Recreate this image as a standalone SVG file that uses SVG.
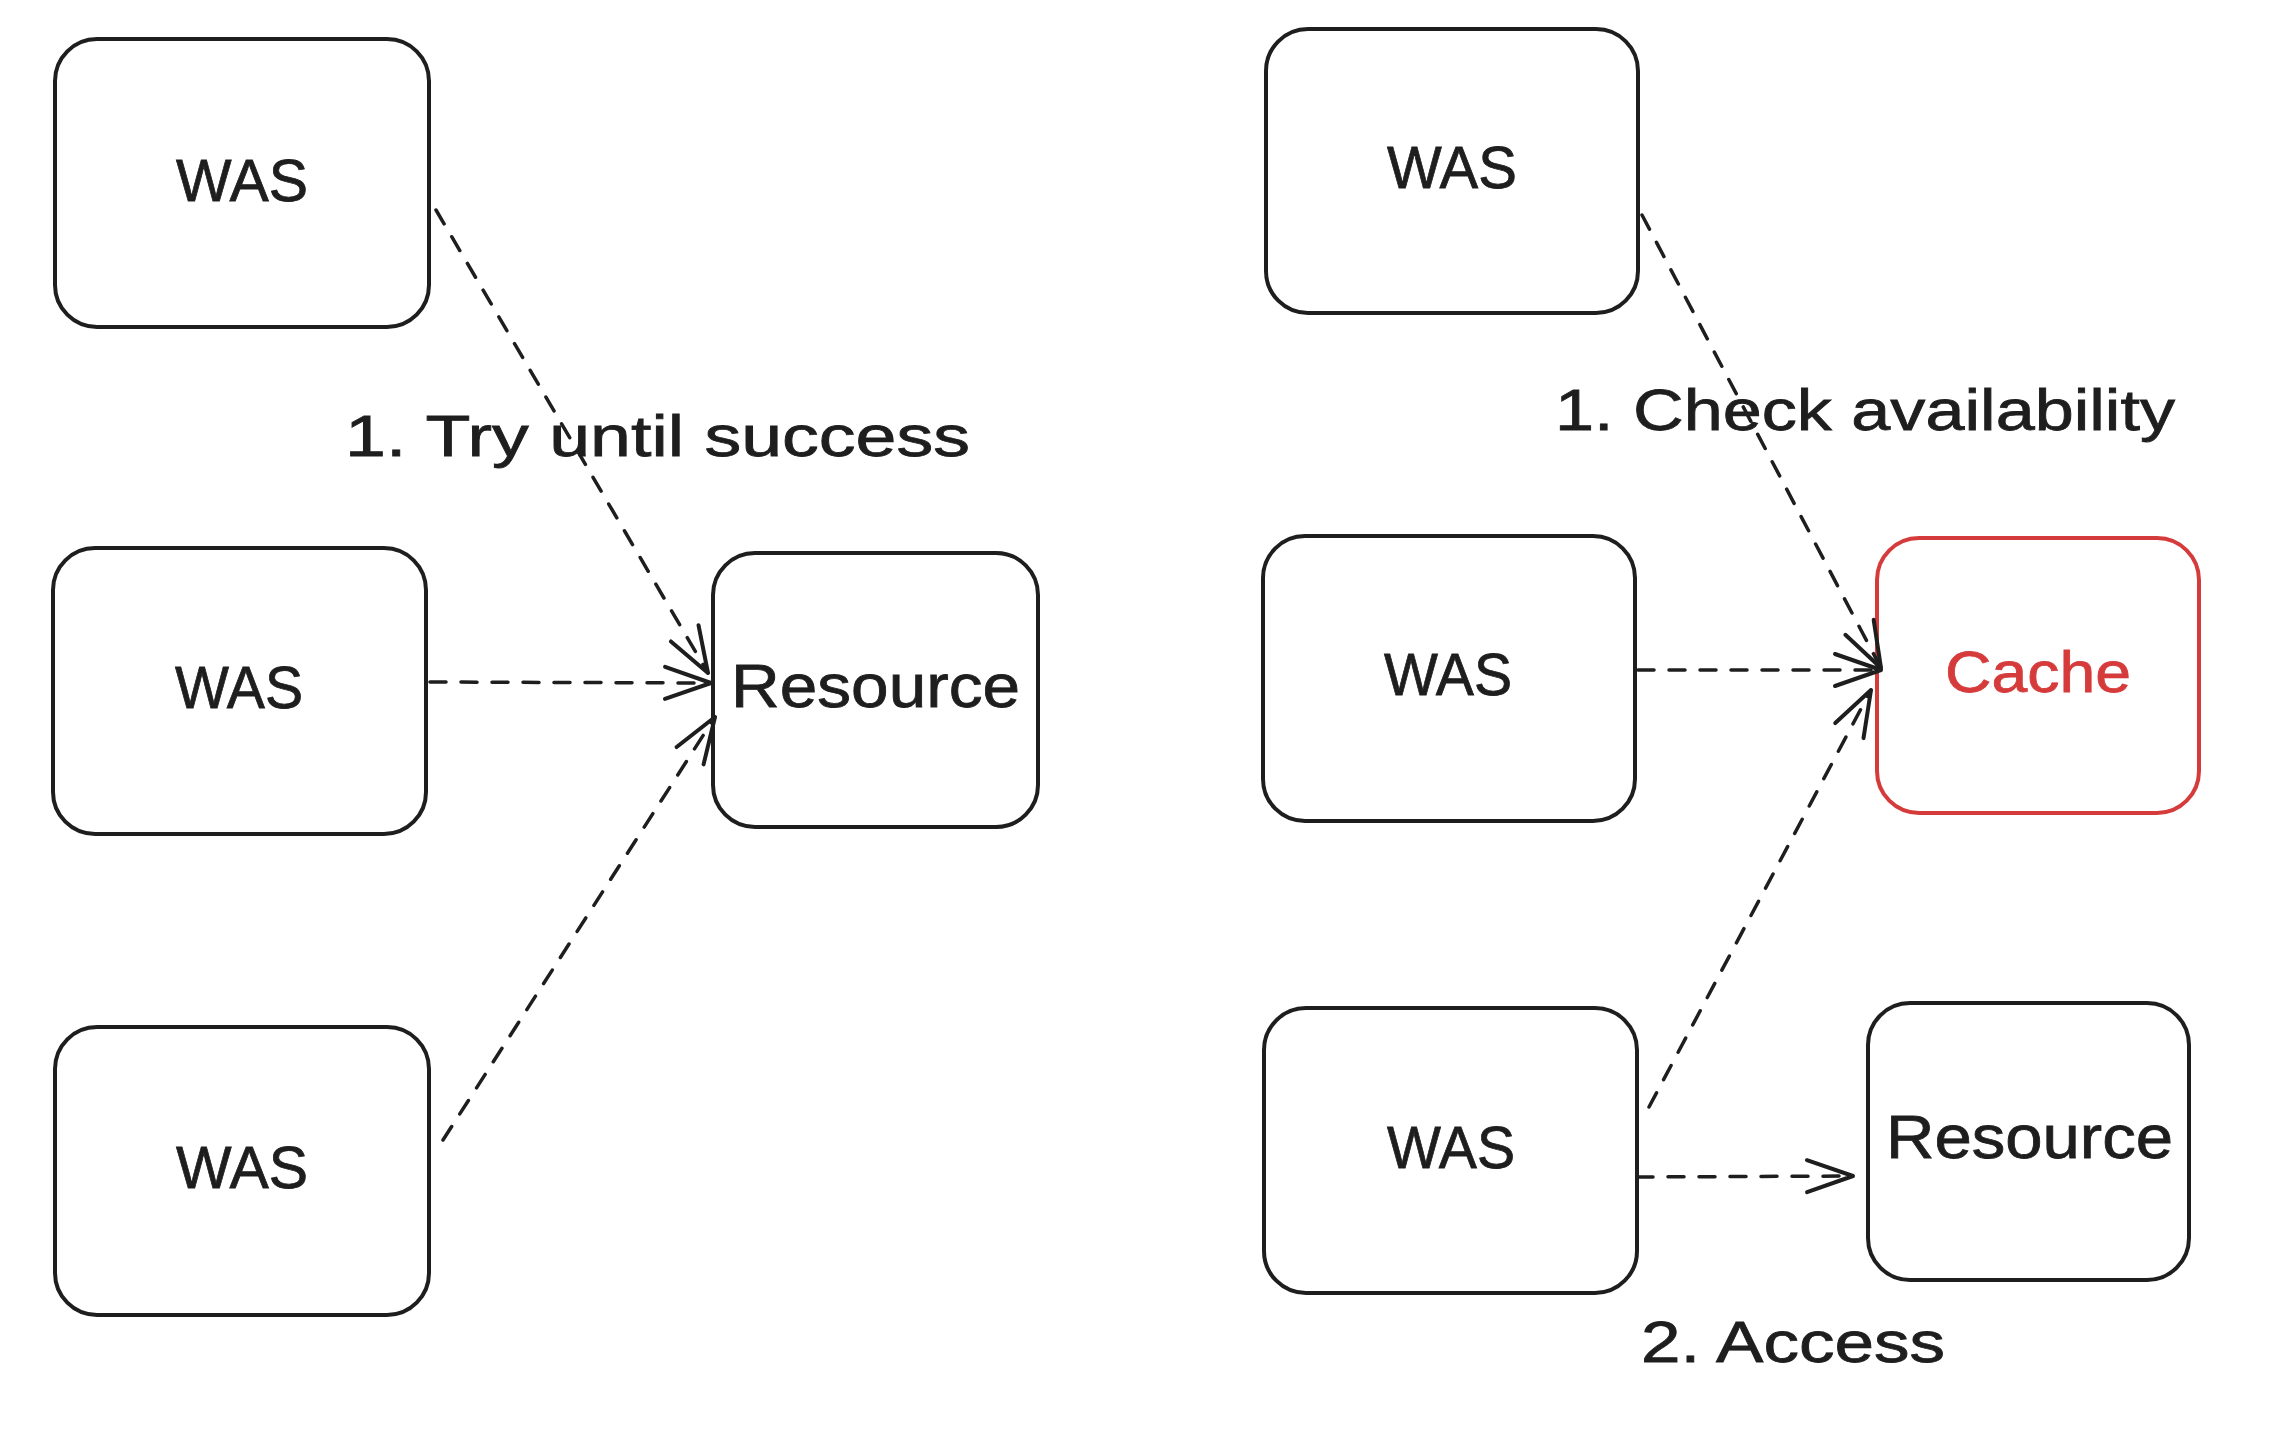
<svg xmlns="http://www.w3.org/2000/svg" width="2286" height="1448" viewBox="0 0 2286 1448">
<style>
.box{fill:#ffffff;stroke:#1e1e1e;stroke-width:4}
.red{fill:#ffffff;stroke:#d63b3b;stroke-width:4}
.t{font-family:"Liberation Sans","Noto Sans",sans-serif;font-size:60px;fill:#1e1e1e;stroke:#1e1e1e;stroke-width:0.8}
.tr{font-family:"Liberation Sans","Noto Sans",sans-serif;font-size:58px;fill:#d63b3b;stroke:#d63b3b;stroke-width:0.8}
.lbl{font-family:"Liberation Sans","Noto Sans",sans-serif;font-size:58px;fill:#1e1e1e;stroke:#1e1e1e;stroke-width:0.8}
.edge{fill:none;stroke:#1e1e1e;stroke-width:3.5;stroke-dasharray:16 15;stroke-linecap:round}
</style>
<defs>
<marker id="arr" markerUnits="userSpaceOnUse" markerWidth="80" markerHeight="80" refX="0" refY="0" viewBox="-60 -40 80 80" orient="auto" overflow="visible">
<path d="M -46 -16 L 0 0 L -46 16" fill="none" stroke="#1e1e1e" stroke-width="4" stroke-linecap="round" stroke-linejoin="round"/>
</marker>
</defs>
<rect width="2286" height="1448" fill="#ffffff"/>

<g id="was-l1"><rect class="box" x="55" y="39" width="374" height="288" rx="42"/><text class="t" x="176" y="201" textLength="132" lengthAdjust="spacingAndGlyphs">WAS</text></g>
<g id="was-l2"><rect class="box" x="53" y="548" width="373" height="286" rx="42"/><text class="t" x="175" y="708" textLength="128" lengthAdjust="spacingAndGlyphs">WAS</text></g>
<g id="was-l3"><rect class="box" x="55" y="1027" width="374" height="288" rx="42"/><text class="t" x="176" y="1188" textLength="132" lengthAdjust="spacingAndGlyphs">WAS</text></g>
<g id="resource-l"><rect class="box" x="713" y="553" width="325" height="274" rx="42"/><text class="t" x="731" y="707" textLength="289" lengthAdjust="spacingAndGlyphs" style="font-size:62px">Resource</text></g>

<g id="was-r1"><rect class="box" x="1266" y="29" width="372" height="284" rx="42"/><text class="t" x="1387" y="188" textLength="130" lengthAdjust="spacingAndGlyphs">WAS</text></g>
<g id="was-r2"><rect class="box" x="1263" y="536" width="372" height="285" rx="42"/><text class="t" x="1384" y="695" textLength="128" lengthAdjust="spacingAndGlyphs">WAS</text></g>
<g id="was-r3"><rect class="box" x="1264" y="1008" width="373" height="285" rx="42"/><text class="t" x="1387" y="1168" textLength="128" lengthAdjust="spacingAndGlyphs">WAS</text></g>
<g id="cache"><rect class="red" x="1877" y="538" width="322" height="275" rx="42"/><text class="tr" x="1945" y="692" textLength="186" lengthAdjust="spacingAndGlyphs">Cache</text></g>
<g id="resource-r"><rect class="box" x="1868" y="1003" width="321" height="277" rx="42"/><text class="t" x="1886" y="1158" textLength="287" lengthAdjust="spacingAndGlyphs" style="font-size:62px">Resource</text></g>

<g id="connectors">
<path class="edge" d="M 436 210 L 708 673" marker-end="url(#arr)"/>
<path class="edge" d="M 430 682 L 711 683" marker-end="url(#arr)"/>
<path class="edge" d="M 443 1140 L 715 717" marker-end="url(#arr)"/>
<path class="edge" d="M 1642 215 L 1881 668" marker-end="url(#arr)"/>
<path class="edge" d="M 1638 670 L 1881 670" marker-end="url(#arr)"/>
<path class="edge" d="M 1649 1107 L 1871 690" marker-end="url(#arr)"/>
<path class="edge" d="M 1637 1177 L 1853 1176" marker-end="url(#arr)"/>
</g>

<g id="labels">
<text class="lbl" x="345" y="456" textLength="625" lengthAdjust="spacingAndGlyphs">1. Try until success</text>
<text class="lbl" x="1555" y="430" textLength="620" lengthAdjust="spacingAndGlyphs">1. Check availability</text>
<text class="lbl" x="1641" y="1362" textLength="304" lengthAdjust="spacingAndGlyphs">2. Access</text>
</g>
</svg>
